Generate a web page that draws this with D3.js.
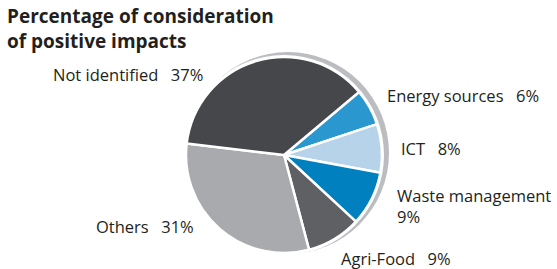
<!DOCTYPE html>
<html>
<head>
<meta charset="utf-8">
<script src="https://cdn.jsdelivr.net/npm/d3@7"></script>
<style>
  body { margin: 0; background: #fff; }
  text { font-family: "Open Sans", "Noto Sans", sans-serif; fill: #231f20; }
</style>
</head>
<body>
<div id="chart"></div>
<script>
// data, clockwise from the upper right
const categories = ['Energy sources', 'ICT', 'Waste management', 'Agri-Food', 'Others', 'Not identified'];
const values = [6, 8, 9, 9, 31, 37];
const colors = ['#2a98cf', '#b7d3ea', '#0180c0', '#5f6064', '#a9aaad', '#46474a'];

const width = 557, height = 269;
const cx = 284, cy = 155, r = 98;

const svg = d3.select('#chart').append('svg')
    .attr('width', width)
    .attr('height', height);

// title
const title = svg.append('text')
    .style('font-size', '19px')
    .style('font-weight', 'bold');
title.append('tspan').attr('x', 7).attr('y', 23).text('Percentage of consideration');
title.append('tspan').attr('x', 7).attr('y', 48).text('of positive impacts');

// grey rim behind the pie, shifted up and right
svg.append('circle')
    .attr('cx', cx + 4)
    .attr('cy', cy - 2)
    .attr('r', r + 3)
    .attr('fill', '#bcbdc0');
svg.append('circle')
    .attr('cx', cx)
    .attr('cy', cy)
    .attr('r', r + 2)
    .attr('fill', '#fff');

const start = 50 * Math.PI / 180;
const pie = d3.pie().sort(null).startAngle(start).endAngle(start + 2 * Math.PI);
const arc = d3.arc().innerRadius(0).outerRadius(r);

const g = svg.append('g').attr('transform', `translate(${cx},${cy})`);
g.selectAll('path')
    .data(pie(values))
    .enter().append('path')
    .attr('d', arc)
    .attr('fill', (d, i) => colors[i])
    .attr('stroke', '#fff')
    .attr('stroke-width', 2.5)
    .attr('stroke-linejoin', 'round');

// labels
const gap = '\u2002 ';
const labels = [
    { x: 387, y: 102, lines: [categories[0] + gap + values[0] + '%'] },
    { x: 401, y: 155, lines: [categories[1] + gap + values[1] + '%'] },
    { x: 397, y: 202, lines: [categories[2], values[2] + '%'] },
    { x: 341, y: 265, lines: [categories[3] + gap + values[3] + '%'] },
    { x: 96, y: 233, lines: [categories[4] + gap + values[4] + '%'] },
    { x: 53, y: 81, lines: [categories[5] + gap + values[5] + '%'] }
];

labels.forEach(l => {
    const t = svg.append('text').style('font-size', '16.5px');
    l.lines.forEach((s, j) => {
        t.append('tspan').attr('x', l.x).attr('y', l.y + j * 21).text(s);
    });
});
</script>
</body>
</html>
